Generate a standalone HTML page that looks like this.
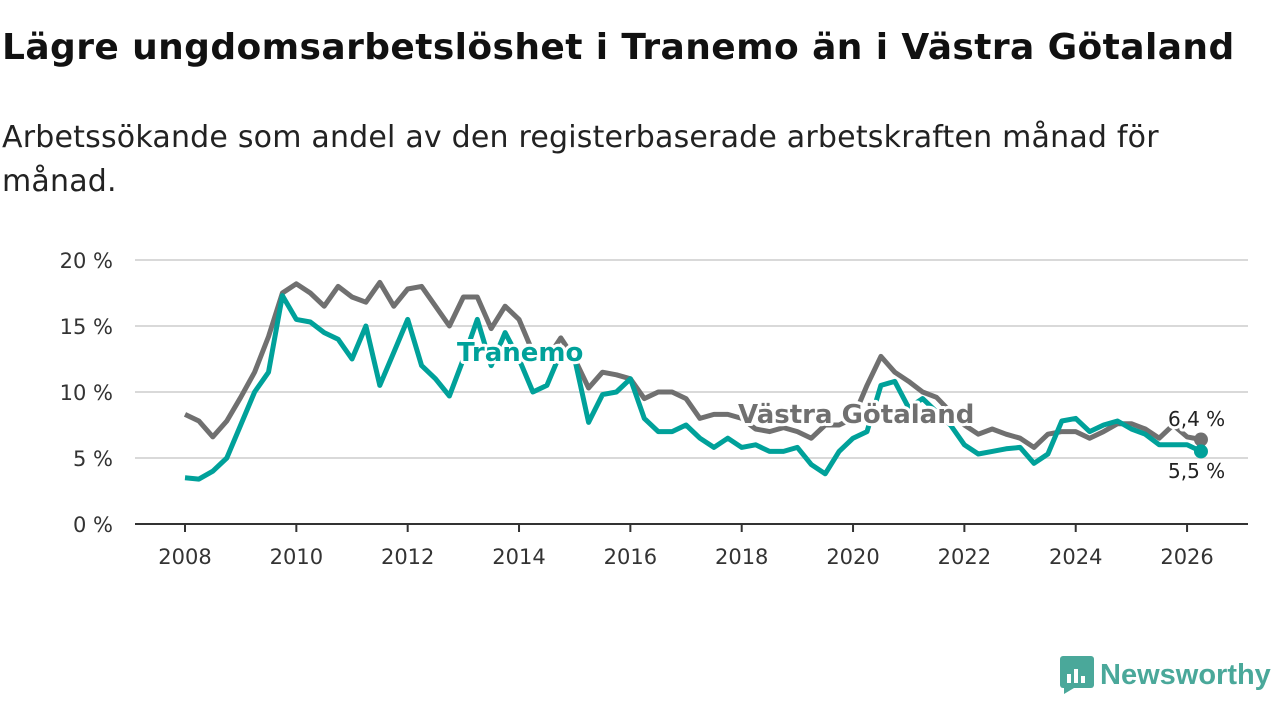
<!DOCTYPE html>
<html><head><meta charset="utf-8"><style>
body{margin:0;width:1280px;height:720px;background:#fff;font-family:"DejaVu Sans","Liberation Sans",sans-serif;overflow:hidden}
h1{position:absolute;left:2px;top:27px;margin:0;font-size:36px;font-weight:bold;color:#111;letter-spacing:0.4px;white-space:nowrap}
.sub{position:absolute;left:2px;top:116px;font-size:30px;color:#222;line-height:44px;width:1200px;letter-spacing:0.2px}
svg{position:absolute;left:0;top:0}
</style></head><body>
<h1>Lägre ungdomsarbetslöshet i Tranemo än i Västra Götaland</h1>
<div class="sub">Arbetssökande som andel av den registerbaserade arbetskraften månad för månad.</div>
<svg id="chart" width="1280" height="720"></svg>
<script>
const startYear = 2008;
const step = 0.25;
const vgValues = [8.3,7.8,6.6,7.8,9.6,11.5,14.2,17.5,18.2,17.5,16.5,18.0,17.2,16.8,18.3,16.5,17.8,18.0,16.5,15.0,17.2,17.2,14.8,16.5,15.5,13.0,12.5,14.1,12.5,10.3,11.5,11.3,11.0,9.5,10.0,10.0,9.5,8.0,8.3,8.3,8.0,7.2,7.0,7.3,7.0,6.5,7.5,7.5,8.0,10.5,12.7,11.5,10.8,10.0,9.6,8.5,7.5,6.8,7.2,6.8,6.5,5.8,6.8,7.0,7.0,6.5,7.0,7.6,7.6,7.2,6.5,7.5,6.6,6.4];
const trValues = [3.5,3.4,4.0,5.0,7.5,10.0,11.5,17.3,15.5,15.3,14.5,14.0,12.5,15.0,10.5,13.0,15.5,12.0,11.0,9.7,12.5,15.5,12.0,14.5,12.5,10.0,10.5,13.0,12.5,7.7,9.8,10.0,11.0,8.0,7.0,7.0,7.5,6.5,5.8,6.5,5.8,6.0,5.5,5.5,5.8,4.5,3.8,5.5,6.5,7.0,10.5,10.8,8.8,9.5,8.5,7.5,6.0,5.3,5.5,5.7,5.8,4.6,5.3,7.8,8.0,7.0,7.5,7.8,7.2,6.8,6.0,6.0,6.0,5.5];
const yTicks = [0,5,10,15,20];
const xTicks = [2008,2010,2012,2014,2016,2018,2020,2022,2024,2026];
const endLabels = ["6,4 %","5,5 %"];

const svg = document.getElementById('chart');
const NS='http://www.w3.org/2000/svg';
const X = yr => 185 + (yr-2008)*55.67;
const Y = v => 524 - v*13.2;
function mk(t,a){const e=document.createElementNS(NS,t);for(const k in a)e.setAttribute(k,a[k]);svg.appendChild(e);return e;}

yTicks.forEach(v=>{
  if(v>0){const g=mk('line',{x1:135,x2:1248,y1:Y(v),y2:Y(v),stroke:'#d9d9d9','stroke-width':2});
  
  }
  const t=mk('text',{x:113,y:Y(v)+8,'text-anchor':'end','font-size':21,fill:'#333'});
  t.textContent=v+' %';
  
  
});
const ax=mk('line',{x1:135,x2:1248,y1:524,y2:524,stroke:'#333','stroke-width':2});


xTicks.forEach(yr=>{
  const l=mk('line',{x1:X(yr),x2:X(yr),y1:524,y2:532,stroke:'#333','stroke-width':2});
  
  
  const t=mk('text',{x:X(yr),y:564,'text-anchor':'middle','font-size':21,fill:'#333'});
  t.textContent=yr;
  
  
});
function path(vals){return vals.map((v,i)=>(i?'L':'M')+X(startYear+i*step).toFixed(1)+','+Y(v).toFixed(1)).join('');}
const pv=mk('path',{d:path(vgValues),fill:'none',stroke:'#707070','stroke-width':5,'stroke-linejoin':'round'});


const pt=mk('path',{d:path(trValues),fill:'none',stroke:'#00a19a','stroke-width':5,'stroke-linejoin':'round'});


const lv=vgValues.length-1, lt=trValues.length-1;
const dv=mk('circle',{cx:X(startYear+lv*step),cy:Y(vgValues[lv]),r:7,fill:'#707070'});


const dt=mk('circle',{cx:X(startYear+lt*step),cy:Y(trValues[lt]),r:7,fill:'#00a19a'});


function label(txt,x,y,col,size,bold,name){
  const t=mk('text',{x:x,y:y,'font-size':size,'font-weight':bold?'bold':'normal',fill:col,stroke:'#fff','stroke-width':6,'paint-order':'stroke','stroke-linejoin':'round'});
  t.textContent=txt;
  
  
}
label('Tranemo',457,361,'#00a19a',26,true,'tranemo-label');
label('Västra Götaland',738,423,'#707070',26,true,'vastra-gotaland-label');
label(endLabels[0],1168,426,'#222',20,false,'vastra-gotaland-end-value');
label(endLabels[1],1168,478,'#222',20,false,'tranemo-end-value');
</script>
<div style="position:absolute;left:1060px;top:656px;display:flex;align-items:center">
<svg width="34" height="38" style="position:static"><rect x="0" y="0" width="34" height="32" rx="3" fill="#4aa89a"/><polygon points="4,32 14,32 4,38" fill="#4aa89a"/><rect x="7" y="18" width="4" height="9" fill="#fff"/><rect x="14" y="13" width="4" height="14" fill="#fff"/><rect x="21" y="20" width="4" height="7" fill="#fff"/></svg>
<span style="font-size:29px;font-weight:bold;color:#4aa89a;margin-left:6px;font-family:'Liberation Sans',sans-serif">Newsworthy</span></div>
</body></html>
